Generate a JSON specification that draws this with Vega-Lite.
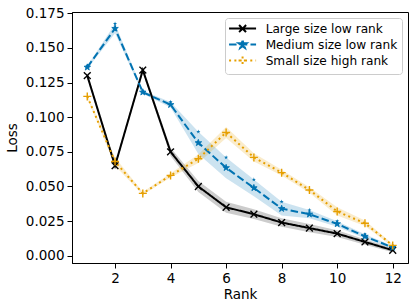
{
  "$schema": "https://vega.github.io/schema/vega-lite/v6.json",
  "width": 336,
  "height": 251,
  "autosize": {"type": "none"},
  "padding": {"left": 72, "top": 12, "right": 7, "bottom": 45},
  "config": {
    "font": "DejaVu Sans",
    "view": {"stroke": "#000000", "strokeWidth": 1},
    "axis": {
      "grid": false,
      "domainColor": "#000000",
      "tickColor": "#000000",
      "labelColor": "#000000",
      "titleColor": "#000000",
      "labelFontSize": 13.5,
      "titleFontSize": 13.5,
      "titleFontWeight": "normal",
      "tickSize": 5,
      "labelPadding": 3,
      "domainWidth": 1,
      "tickWidth": 1
    },
    "legend": {
      "orient": "top-right",
      "offset": 6,
      "padding": 4.5,
      "strokeColor": "#cccccc",
      "fillColor": "rgba(255,255,255,0.8)",
      "cornerRadius": 3,
      "labelFontSize": 12.15,
      "labelColor": "#000000",
      "symbolSize": 100,
      "symbolStrokeWidth": 2,
      "symbolOpacity": 1,
      "symbolOffset": 7,
      "labelOffset": 17,
      "rowPadding": 0
    }
  },
  "data": {
    "values": [
      {"series": "Large size low rank", "rank": 1, "loss": 0.130, "lo": 0.128, "hi": 0.132},
      {"series": "Large size low rank", "rank": 2, "loss": 0.065, "lo": 0.063, "hi": 0.067},
      {"series": "Large size low rank", "rank": 3, "loss": 0.134, "lo": 0.132, "hi": 0.136},
      {"series": "Large size low rank", "rank": 4, "loss": 0.075, "lo": 0.072, "hi": 0.078},
      {"series": "Large size low rank", "rank": 5, "loss": 0.050, "lo": 0.046, "hi": 0.054},
      {"series": "Large size low rank", "rank": 6, "loss": 0.035, "lo": 0.031, "hi": 0.039},
      {"series": "Large size low rank", "rank": 7, "loss": 0.030, "lo": 0.0265, "hi": 0.0335},
      {"series": "Large size low rank", "rank": 8, "loss": 0.024, "lo": 0.021, "hi": 0.027},
      {"series": "Large size low rank", "rank": 9, "loss": 0.020, "lo": 0.017, "hi": 0.023},
      {"series": "Large size low rank", "rank": 10, "loss": 0.016, "lo": 0.0135, "hi": 0.0185},
      {"series": "Large size low rank", "rank": 11, "loss": 0.010, "lo": 0.008, "hi": 0.012},
      {"series": "Large size low rank", "rank": 12, "loss": 0.004, "lo": 0.0025, "hi": 0.0055},
      {"series": "Medium size low rank", "rank": 1, "loss": 0.136, "lo": 0.135, "hi": 0.137},
      {"series": "Medium size low rank", "rank": 2, "loss": 0.164, "lo": 0.1605, "hi": 0.1675},
      {"series": "Medium size low rank", "rank": 3, "loss": 0.118, "lo": 0.117, "hi": 0.119},
      {"series": "Medium size low rank", "rank": 4, "loss": 0.109, "lo": 0.107, "hi": 0.111},
      {"series": "Medium size low rank", "rank": 5, "loss": 0.0815, "lo": 0.0735, "hi": 0.0895},
      {"series": "Medium size low rank", "rank": 6, "loss": 0.0635, "lo": 0.056, "hi": 0.071},
      {"series": "Medium size low rank", "rank": 7, "loss": 0.049, "lo": 0.043, "hi": 0.055},
      {"series": "Medium size low rank", "rank": 8, "loss": 0.034, "lo": 0.029, "hi": 0.039},
      {"series": "Medium size low rank", "rank": 9, "loss": 0.030, "lo": 0.027, "hi": 0.033},
      {"series": "Medium size low rank", "rank": 10, "loss": 0.023, "lo": 0.021, "hi": 0.025},
      {"series": "Medium size low rank", "rank": 11, "loss": 0.014, "lo": 0.0125, "hi": 0.0155},
      {"series": "Medium size low rank", "rank": 12, "loss": 0.006, "lo": 0.005, "hi": 0.007},
      {"series": "Small size high rank", "rank": 1, "loss": 0.115, "lo": 0.114, "hi": 0.116},
      {"series": "Small size high rank", "rank": 2, "loss": 0.068, "lo": 0.065, "hi": 0.071},
      {"series": "Small size high rank", "rank": 3, "loss": 0.045, "lo": 0.044, "hi": 0.046},
      {"series": "Small size high rank", "rank": 4, "loss": 0.058, "lo": 0.0565, "hi": 0.0595},
      {"series": "Small size high rank", "rank": 5, "loss": 0.070, "lo": 0.067, "hi": 0.073},
      {"series": "Small size high rank", "rank": 6, "loss": 0.089, "lo": 0.085, "hi": 0.093},
      {"series": "Small size high rank", "rank": 7, "loss": 0.071, "lo": 0.068, "hi": 0.074},
      {"series": "Small size high rank", "rank": 8, "loss": 0.060, "lo": 0.058, "hi": 0.062},
      {"series": "Small size high rank", "rank": 9, "loss": 0.0475, "lo": 0.0455, "hi": 0.0495},
      {"series": "Small size high rank", "rank": 10, "loss": 0.032, "lo": 0.029, "hi": 0.035},
      {"series": "Small size high rank", "rank": 11, "loss": 0.0235, "lo": 0.0215, "hi": 0.0255},
      {"series": "Small size high rank", "rank": 12, "loss": 0.0075, "lo": 0.0065, "hi": 0.0085}
    ]
  },
  "encoding": {
    "x": {
      "field": "rank",
      "type": "quantitative",
      "scale": {"domain": [0.45, 12.55], "nice": false, "zero": false},
      "axis": {"values": [2, 4, 6, 8, 10, 12], "format": "d", "title": "Rank", "titlePadding": 3}
    },
    "y": {
      "field": "loss",
      "type": "quantitative",
      "scale": {"domain": [-0.0052, 0.1759], "nice": false, "zero": false},
      "axis": {"values": [0, 0.025, 0.05, 0.075, 0.1, 0.125, 0.15, 0.175], "format": ".3f", "title": "Loss", "titlePadding": 6, "labelOverlap": false}
    },
    "color": {
      "field": "series",
      "type": "nominal",
      "scale": {"domain": ["Large size low rank", "Medium size low rank", "Small size high rank"], "range": ["#000000", "#0173B2", "#E69F00"]},
      "legend": {"title": null}
    },
    "shape": {
      "field": "series",
      "type": "nominal",
      "scale": {"domain": ["Large size low rank", "Medium size low rank", "Small size high rank"], "range": ["M-2.7,0H2.7M-0.7,-0.7L0.7,0.7M-0.7,0.7L0.7,-0.7", "M-2.7,0H2.7M0,-0.8L0.18,-0.247L0.761,-0.247L0.291,0.094L0.47,0.647L0,0.306L-0.47,0.647L-0.291,0.094L-0.761,-0.247L-0.18,-0.247Z", "M-2.7,0H2.7M-0.8,0H0.8M0,-0.8V0.8"]},
      "legend": {"title": null}
    },
    "strokeDash": {
      "field": "series",
      "type": "nominal",
      "scale": {"domain": ["Large size low rank", "Medium size low rank", "Small size high rank"], "range": [[1, 0], [7.5, 3.2], [2, 3.3]]},
      "legend": {"title": null}
    }
  },
  "layer": [
    {
      "mark": {"type": "area", "opacity": 0.2},
      "encoding": {
        "y": {
          "field": "hi",
          "type": "quantitative",
          "scale": {"domain": [-0.0052, 0.1759], "nice": false, "zero": false},
          "axis": {"values": [0, 0.025, 0.05, 0.075, 0.1, 0.125, 0.15, 0.175], "format": ".3f", "title": "Loss", "titlePadding": 6, "labelOverlap": false}
        },
        "y2": {"field": "lo"}
      }
    },
    {
      "mark": {"type": "line", "strokeWidth": 2}
    },
    {
      "transform": [{"filter": "datum.series === 'Large size low rank'"}],
      "mark": {"type": "point", "size": 64, "strokeWidth": 1.4, "opacity": 1},
      "encoding": {
        "shape": {"value": "M-0.85,-0.85L0.85,0.85M-0.85,0.85L0.85,-0.85"},
        "strokeDash": {"value": [1, 0]}
      }
    },
    {
      "transform": [{"filter": "datum.series === 'Medium size low rank'"}],
      "mark": {"type": "point", "size": 64, "filled": true, "stroke": "#0173B2", "strokeWidth": 1, "opacity": 1},
      "encoding": {
        "shape": {"value": "M0,-0.85L0.2,-0.263L0.808,-0.263L0.32,0.1L0.5,0.688L0,0.33L-0.5,0.688L-0.32,0.1L-0.808,-0.263L-0.2,-0.263Z"},
        "strokeDash": {"value": [1, 0]}
      }
    },
    {
      "transform": [{"filter": "datum.series === 'Small size high rank'"}],
      "mark": {"type": "point", "size": 64, "strokeWidth": 1.4, "opacity": 1},
      "encoding": {
        "shape": {"value": "M-1,0H1M0,-1V1"},
        "strokeDash": {"value": [1, 0]}
      }
    }
  ]
}
